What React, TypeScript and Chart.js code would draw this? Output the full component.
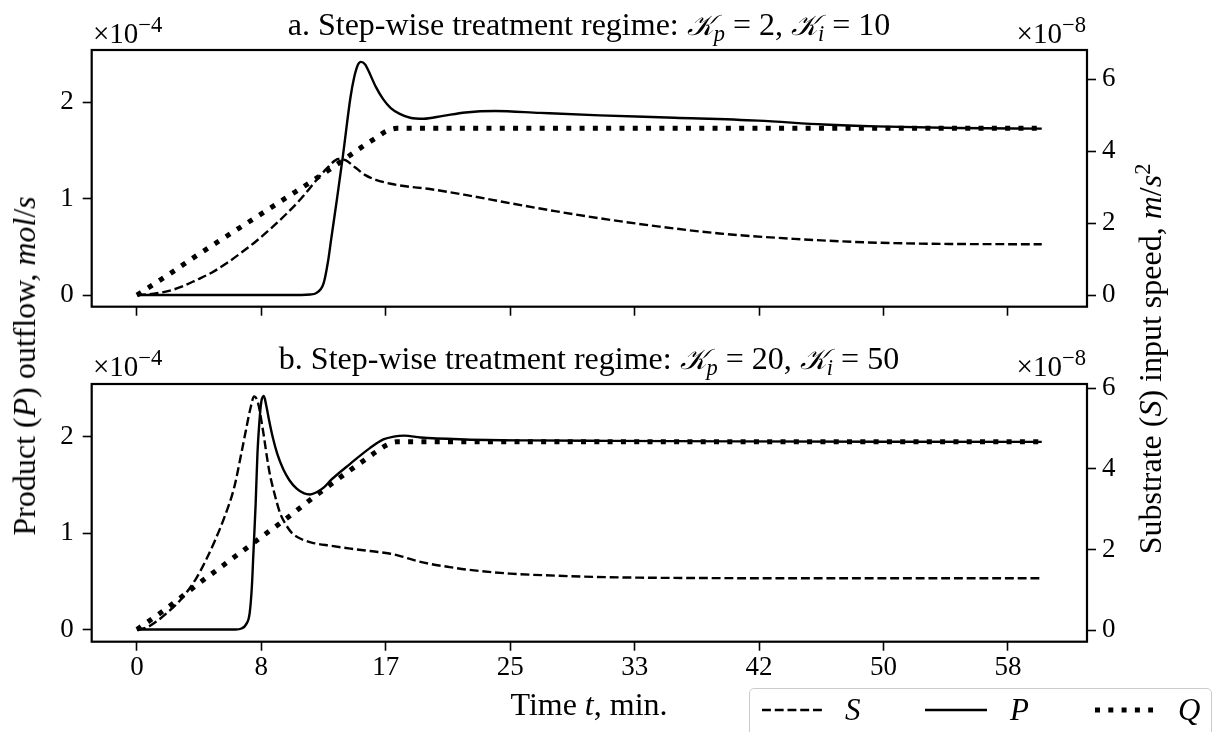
import React, { useEffect, useRef } from 'react';
import { Chart, registerables } from 'chart.js';

Chart.register(...registerables);

const FONT = "'Liberation Serif', 'Times New Roman', serif";
const W = 1219;
const H = 732;

// ---------- Panel a (K_p = 2, K_i = 10) ----------
const aSTime = [0, 1, 2, 3, 4, 5, 6, 7, 8, 9, 10, 11, 12, 12.8, 13.5, 14, 14.6, 15.3, 16, 17, 18, 19.5, 22, 25, 28, 31, 35, 39, 44, 49, 54, 60.6];
const aS = [0, 0.03, 0.1, 0.23, 0.42, 0.62, 0.88, 1.18, 1.5, 1.86, 2.25, 2.68, 3.18, 3.55, 3.78, 3.74, 3.55, 3.33, 3.2, 3.09, 3.02, 2.95, 2.78, 2.55, 2.33, 2.13, 1.9, 1.71, 1.56, 1.46, 1.42, 1.41];

const aPTime = [0, 11.0, 11.6, 12.0, 12.5, 12.8, 13.0, 13.4, 13.8, 14.3, 14.55, 14.8, 15.0, 15.3, 15.5, 16.0, 16.5, 17.0, 17.6, 18.3, 19.2, 20.5, 22, 24, 27, 31, 36, 41.6, 46, 49.5, 54.8, 60.6];
const aP = [0, 0, 0.005, 0.02, 0.12, 0.35, 0.57, 1.0, 1.45, 2.05, 2.26, 2.39, 2.42, 2.39, 2.33, 2.16, 2.03, 1.94, 1.88, 1.84, 1.83, 1.86, 1.895, 1.91, 1.89, 1.865, 1.84, 1.81, 1.77, 1.75, 1.734, 1.727];

const aQTime = [0, 2, 4, 6, 8, 10, 12, 14, 15, 16, 16.7, 17.4, 60.6];
const aQ = [0, 0.2, 0.41, 0.61, 0.81, 1.01, 1.21, 1.42, 1.53, 1.63, 1.7, 1.73, 1.73];

// ---------- Panel b (K_p = 20, K_i = 50) ----------
const bSTime = [0, 0.7, 1.3, 2, 2.9, 3.9, 4.6, 5.2, 5.9, 6.5, 7.0, 7.3, 7.6, 7.85, 8.1, 8.4, 8.85, 9.2, 9.6, 10.0, 10.4, 11, 11.7, 13, 14.3, 15.6, 16.9, 17.7, 18.5, 19.5, 20.8, 22.1, 25, 28, 31.7, 38, 45, 60.6];
const bS = [0, 0.07, 0.21, 0.42, 0.74, 1.24, 1.72, 2.2, 2.84, 3.52, 4.4, 4.96, 5.5, 5.8, 5.65, 5.05, 3.97, 3.4, 2.89, 2.6, 2.4, 2.26, 2.17, 2.09, 2.02, 1.96, 1.9, 1.83, 1.74, 1.65, 1.57, 1.5, 1.4, 1.35, 1.31, 1.29, 1.285, 1.285];

const bPTime = [0, 6.6, 7.0, 7.3, 7.55, 7.7, 7.8, 7.95, 8.07, 8.2, 8.33, 8.5, 8.65, 8.85, 9.1, 9.4, 9.8, 10.2, 10.7, 11.2, 11.6, 12.0, 12.5, 13.0, 14.3, 15.6, 16.5, 17.2, 17.9, 19, 22, 26, 31.7, 40, 50, 60.6];
const bP = [0, 0, 0.01, 0.05, 0.17, 0.45, 0.79, 1.3, 1.82, 2.15, 2.36, 2.42, 2.33, 2.17, 1.99, 1.82, 1.66, 1.55, 1.46, 1.41, 1.4, 1.42, 1.47, 1.55, 1.72, 1.88, 1.97, 2.0, 2.01, 1.99, 1.97, 1.96, 1.955, 1.95, 1.946, 1.945];

const bQTime = [0, 2, 4, 6, 8, 10, 12, 14, 15, 16, 16.7, 17.4, 60.6];
const bQ = [0, 0.22, 0.46, 0.69, 0.92, 1.15, 1.39, 1.62, 1.73, 1.84, 1.91, 1.945, 1.945];

// ---------- Axes ----------
const xTickSeconds = [0, 500, 1000, 1500, 2000, 2500, 3000, 3500];
const xTickLabels = ['0', '8', '17', '25', '33', '42', '50', '58'];
const pTicks = [0, 1, 2];
const sTicks = [0, 2, 4, 6];
const X_MIN = -3.03;
const X_MAX = 63.63;

function pts(t: number[], v: number[]) {
  return t.map((x, i) => ({ x, y: v[i] }));
}

const framePlugin = {
  id: 'frame',
  afterDatasetsDraw(chart: any) {
    const { ctx, chartArea } = chart;
    ctx.save();
    ctx.strokeStyle = '#000';
    ctx.lineWidth = 2.2;
    ctx.strokeRect(chartArea.left, chartArea.top, chartArea.right - chartArea.left, chartArea.bottom - chartArea.top);
    ctx.restore();
  },
};

interface PanelSpec {
  sT: number[]; sV: number[];
  pT: number[]; pV: number[];
  qT: number[]; qV: number[];
  pMin: number; pMax: number;
  sMin: number; sMax: number;
  padTop: number; xAxisHeight: number; showXLabels: boolean;
}

function makeConfig(spec: PanelSpec): any {
  const tickFont = { family: FONT, size: 27 };
  const grid = { drawOnChartArea: false, drawTicks: true, tickLength: 9, tickWidth: 1.6, tickColor: '#000' };
  const line = { borderColor: '#000', pointRadius: 0, fill: false, cubicInterpolationMode: 'monotone' };
  return {
    type: 'line',
    data: {
      datasets: [
        { ...line, label: 'S', data: pts(spec.sT, spec.sV), yAxisID: 'yS', borderWidth: 2.4, borderDash: [8.9, 3.85] },
        { ...line, label: 'P', data: pts(spec.pT, spec.pV), yAxisID: 'yP', borderWidth: 2.4 },
        { ...line, label: 'Q', data: pts(spec.qT, spec.qV), yAxisID: 'yP', borderWidth: 5, borderDash: [5, 8.3] },
      ],
    },
    options: {
      animation: false,
      responsive: false,
      events: [],
      layout: { padding: { top: spec.padTop, left: 0, right: 0, bottom: 0 } },
      plugins: { legend: { display: false }, tooltip: { enabled: false }, title: { display: false } },
      scales: {
        x: {
          type: 'linear',
          min: X_MIN,
          max: X_MAX,
          afterBuildTicks: (s: any) => { s.ticks = xTickSeconds.map((v) => ({ value: v / 60 })); },
          ticks: {
            display: spec.showXLabels,
            callback: (_v: any, i: number) => xTickLabels[i],
            autoSkip: false, maxRotation: 0, font: tickFont, color: '#000', padding: 1,
          },
          grid,
          border: { display: false },
          afterFit: (s: any) => { s.height = spec.xAxisHeight; s.paddingLeft = 0; s.paddingRight = 0; },
        },
        yP: {
          type: 'linear', position: 'left', min: spec.pMin, max: spec.pMax,
          afterBuildTicks: (s: any) => { s.ticks = pTicks.map((v) => ({ value: v })); },
          ticks: { callback: (v: any) => String(v), font: tickFont, color: '#000', padding: 9 },
          grid,
          border: { display: false },
          afterFit: (s: any) => { s.width = 91.7; s.paddingTop = 0; s.paddingBottom = 0; },
        },
        yS: {
          type: 'linear', position: 'right', min: spec.sMin, max: spec.sMax,
          afterBuildTicks: (s: any) => { s.ticks = sTicks.map((v) => ({ value: v })); },
          ticks: { callback: (v: any) => String(v), font: tickFont, color: '#000', padding: 6 },
          grid,
          border: { display: false },
          afterFit: (s: any) => { s.width = W - 1087; s.paddingTop = 0; s.paddingBottom = 0; },
        },
      },
    },
    plugins: [framePlugin],
  };
}

function Panel({ spec, top, height }: { spec: PanelSpec; top: number; height: number }) {
  const ref = useRef<HTMLCanvasElement | null>(null);
  useEffect(() => {
    if (!ref.current) return;
    const chart = new Chart(ref.current, makeConfig(spec));
    return () => chart.destroy();
  }, []);
  return (
    <canvas
      ref={ref}
      width={W}
      height={height}
      style={{ position: 'absolute', left: 0, top, width: W, height }}
    />
  );
}

function BText({ x, baseline, size, align = 'left', italic = false, children }: any) {
  const style: any = {
    position: 'absolute',
    top: baseline - 0.8375 * size,
    fontSize: size,
    lineHeight: size + 'px',
    whiteSpace: 'nowrap',
    fontStyle: italic ? 'italic' : 'normal',
  };
  if (align === 'left') style.left = x;
  else if (align === 'right') style.right = W - x;
  else { style.left = x; style.transform = 'translateX(-50%)'; }
  return <div style={style}>{children}</div>;
}

const sup = (t: string, scale = 0.7) => (
  <span style={{ position: 'relative', top: '-0.48em', fontSize: scale + 'em' }}>{t}</span>
);
const sub = (t: string) => (
  <span style={{ position: 'relative', top: '0.28em', fontSize: '0.7em', fontStyle: 'italic' }}>{t}</span>
);
const calK = <span style={{ fontFamily: "'DejaVu Serif', 'DejaVu Sans', 'Noto Sans', serif", fontStyle: 'italic', fontSize: '0.9em' }}>𝒦</span>;

function Title({ baseline, kp, ki, prefix }: any) {
  return (
    <BText x={589} baseline={baseline} size={32} align="center">
      {prefix} Step-wise treatment regime: {calK}{sub('p')} = {kp}, {calK}{sub('i')} = {ki}
    </BText>
  );
}

function RotText({ cx, cy, size, children }: any) {
  return (
    <div
      style={{
        position: 'absolute', left: cx, top: cy, fontSize: size, lineHeight: size + 'px',
        whiteSpace: 'nowrap', transform: 'translate(-50%, -50%) rotate(-90deg)',
      }}
    >
      {children}
    </div>
  );
}

const specA: PanelSpec = {
  sT: aSTime, sV: aS, pT: aPTime, pV: aP, qT: aQTime, qV: aQ,
  pMin: -0.121, pMax: 2.543, sMin: -0.325, sMax: 6.806,
  padTop: 50, xAxisHeight: 330 - 306.7, showXLabels: false,
};
const specB: PanelSpec = {
  sT: bSTime, sV: bS, pT: bPTime, pV: bP, qT: bQTime, qV: bQ,
  pMin: -0.127, pMax: 2.545, sMin: -0.29, sMax: 6.107,
  padTop: 54, xAxisHeight: 732 - 641.7, showXLabels: true,
};

export default function App() {
  return (
    <div
      style={{
        position: 'fixed', left: 0, top: 0, width: W, height: H, overflow: 'hidden',
        background: '#fff', color: '#000', fontFamily: FONT,
      }}
    >
      <Panel spec={specA} top={0} height={330} />
      <Panel spec={specB} top={330} height={402} />

      <Title baseline={35} prefix="a." kp="2" ki="10" />
      <Title baseline={369} prefix="b." kp="20" ki="50" />

      <BText x={93} baseline={43.3} size={29}>×10{sup('−4', 0.78)}</BText>
      <BText x={93} baseline={376.5} size={29}>×10{sup('−4', 0.78)}</BText>
      <BText x={1086} baseline={43.3} size={29} align="right">×10{sup('−8', 0.78)}</BText>
      <BText x={1086} baseline={376.5} size={29} align="right">×10{sup('−8', 0.78)}</BText>

      <BText x={589} baseline={715} size={32} align="center">
        Time <i>t</i>, min.
      </BText>

      <RotText cx={24} cy={366} size={32}>
        Product (<i>P</i>) outflow, <i>mol</i>/<i>s</i>
      </RotText>
      <RotText cx={1152} cy={359} size={32}>
        Substrate (<i>S</i>) input speed, <i>m</i>/<i>s</i>{sup('2')}
      </RotText>

      <div
        style={{
          position: 'absolute', left: 749, top: 688, width: 463, height: 70,
          border: '1.5px solid #cccccc', borderRadius: 5, background: '#fff', boxSizing: 'border-box',
        }}
      />
      <svg width={W} height={H} style={{ position: 'absolute', left: 0, top: 0 }}>
        <line x1={762} y1={710} x2={822} y2={710} stroke="#000" strokeWidth={2.4} strokeDasharray="8.9 3.85" />
        <line x1={925} y1={710} x2={987} y2={710} stroke="#000" strokeWidth={2.4} />
        <line x1={1095} y1={710} x2={1153} y2={710} stroke="#000" strokeWidth={5} strokeDasharray="5 8.3" />
      </svg>
      <BText x={845} baseline={720} size={31} italic>S</BText>
      <BText x={1010} baseline={720} size={31} italic>P</BText>
      <BText x={1178} baseline={720} size={31} italic>Q</BText>
    </div>
  );
}
